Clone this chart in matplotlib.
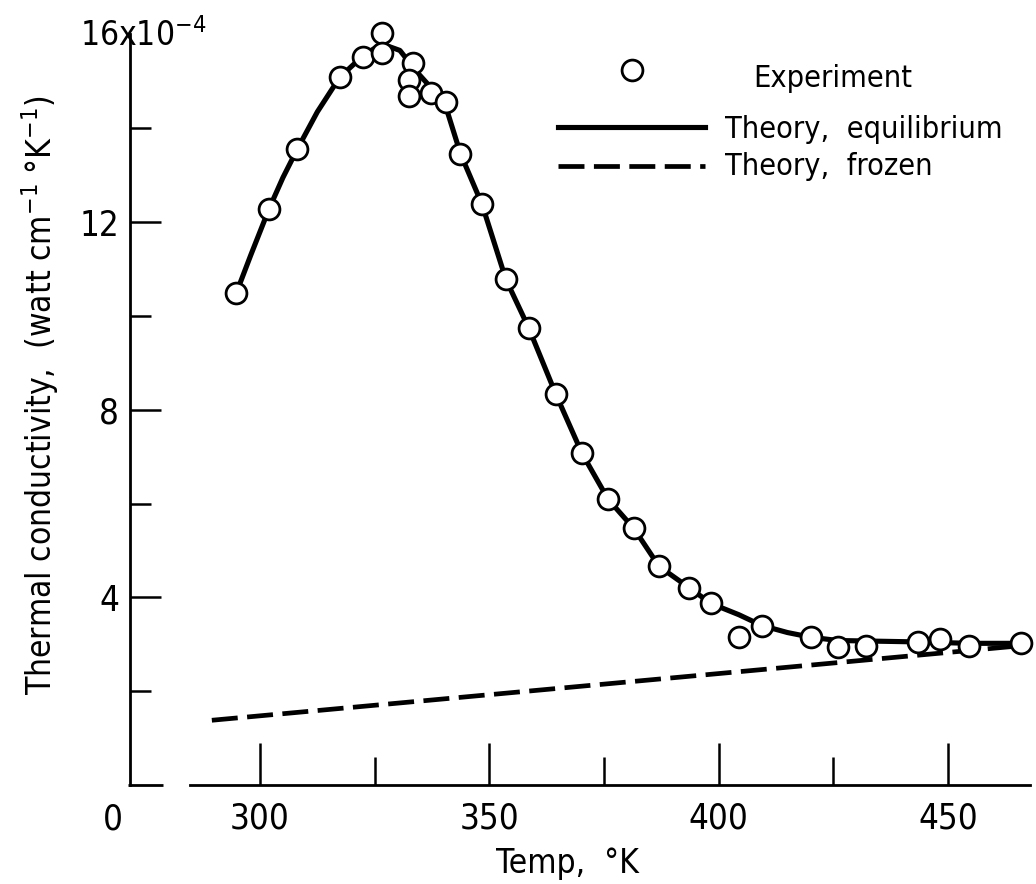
import matplotlib
matplotlib.use("Agg")
import matplotlib.pyplot as plt
from matplotlib.lines import Line2D
from matplotlib import font_manager

# 細身のフォントを探す（なければ DejaVu Sans）
font = "DejaVu Sans"
stretch = "normal"
for f in font_manager.fontManager.ttflist:
    fn = f.fname
    if ("Narrow" in fn or "Condensed" in fn) and not any(
            k in fn for k in ["Bold", "Oblique", "Italic", "Light", "Black"]):
        font = f.name
        stretch = f.stretch
        break
plt.rcParams["font.family"] = [font, "DejaVu Sans"]
plt.rcParams["font.stretch"] = stretch
plt.rcParams["mathtext.fontset"] = "custom"
plt.rcParams["mathtext.rm"] = font
plt.rcParams["mathtext.it"] = font
plt.rcParams["mathtext.default"] = "regular"

# Experiment (temperature K, conductivity x1e-4)
exp_temp = [294.8, 302.0, 308.1, 317.4, 322.5, 326.6, 326.6, 333.4, 332.5, 332.5,
            337.3, 340.5, 343.6, 348.4, 353.6, 358.6, 364.5, 370.2, 375.9, 381.5,
            387.0, 393.5, 398.3, 404.4, 409.4, 420.1, 426.0, 432.1, 443.5, 448.2,
            454.6, 465.9]
exp_k = [10.48, 12.29, 13.55, 15.09, 15.51, 16.04, 15.60, 15.39, 15.03, 14.68,
         14.75, 14.55, 13.46, 12.38, 10.78, 9.74, 8.33, 7.07, 6.09, 5.47,
         4.66, 4.21, 3.87, 3.16, 3.40, 3.15, 2.95, 2.97, 3.04, 3.12,
         2.97, 3.02]

# Theory, equilibrium
eq_temp = [294.8, 298.0, 302.0, 305.0, 308.1, 312.5, 317.4, 322.5, 326.5, 330.5,
           334.2, 337.8, 340.7, 343.7, 348.4, 353.6, 358.6, 364.5, 370.2,
           375.9, 381.5, 387.0, 393.5, 398.3, 404.4, 409.4, 415.0, 420.1, 426.0,
           432.1, 443.5, 454.6, 466.1]
eq_k = [10.48, 11.30, 12.29, 12.95, 13.55, 14.35, 15.09, 15.55, 15.80, 15.66,
        15.20, 14.81, 14.40, 13.46, 12.38, 10.78, 9.74, 8.33, 7.07,
        6.09, 5.47, 4.66, 4.21, 3.87, 3.63, 3.40, 3.25, 3.15, 3.08,
        3.07, 3.05, 3.02, 3.02]

# Theory, frozen
frozen_temp = [289.5, 466.0]
frozen_k = [1.38, 2.97]

fig = plt.figure(figsize=(10.36, 8.84), dpi=100)
ax = fig.add_axes([0.1255, 0.112, 0.8687, 0.849])

ax.plot(eq_temp, eq_k, color="black", lw=3.7, zorder=2)
ax.plot(frozen_temp, frozen_k, color="black", lw=3.4, dashes=(5.5, 2), zorder=2)
ax.plot(exp_temp, exp_k, ls="none", marker="o", ms=15, mfc="white", mec="black",
        mew=2.0, zorder=3, clip_on=False)

ax.set_xlim(271.66, 467.87)
ax.set_ylim(0, 16)

for s in ["top", "right"]:
    ax.spines[s].set_visible(False)
ax.spines["left"].set_linewidth(2)
ax.spines["bottom"].set_linewidth(2)
ax.spines["bottom"].set_bounds(284.7, 467.87)
# 軸の切れ目（左側の短い部分）
ax.plot([-0.002, 0.037], [0, 0], transform=ax.transAxes, color="black", lw=2,
        clip_on=False, solid_capstyle="butt")

ax.set_xticks([300, 350, 400, 450])
ax.set_xticks([325, 375, 425], minor=True)
ax.tick_params(axis="x", which="major", direction="in", length=30, width=1.8,
               pad=12, labelsize=25)
ax.tick_params(axis="x", which="minor", direction="in", length=20, width=1.8)

ax.set_yticks([4, 8, 12])
ax.set_yticks([2, 6, 10, 14], minor=True)
ax.tick_params(axis="y", which="major", direction="in", length=22, width=1.8,
               pad=8, labelsize=25)
ax.tick_params(axis="y", which="minor", direction="in", length=15, width=1.8)

fig.text(143 / 1036, 1 - 36 / 884, "16x10$^{-4}$", ha="center", va="center", size=24)
fig.text(113 / 1036, 1 - 819 / 884, "0", ha="center", va="center", size=25)

fig.text(567 / 1036, 1 - 864 / 884, "Temp,  °K", ha="center", va="center", size=24)
fig.text(40 / 1036, 1 - 395 / 884,
         "Thermal conductivity,  (watt cm$^{-1}$ °K$^{-1}$)",
         rotation=90, ha="center", va="center", size=24)

# 凡例（元の図の配置に合わせて手で置く）
tf = fig.transFigure
fig.add_artist(Line2D([632 / 1036], [1 - 70 / 884], marker="o", ms=15, mfc="white",
                      mec="black", mew=2.0, ls="none", transform=tf))
fig.add_artist(Line2D([558 / 1036, 705 / 1036], [1 - 127 / 884] * 2, color="black",
                      lw=3.7, transform=tf))
fig.add_artist(Line2D([558 / 1036, 705 / 1036], [1 - 166 / 884] * 2, color="black",
                      lw=3.4, dashes=(5.5, 2), transform=tf))
fig.text(753 / 1036, 1 - 87 / 884, "Experiment", va="baseline", size=22)
fig.text(725 / 1036, 1 - 138 / 884, "Theory,  equilibrium", va="baseline", size=22)
fig.text(725 / 1036, 1 - 175 / 884, "Theory,  frozen", va="baseline", size=22)

fig.savefig("out.png", dpi=100)
